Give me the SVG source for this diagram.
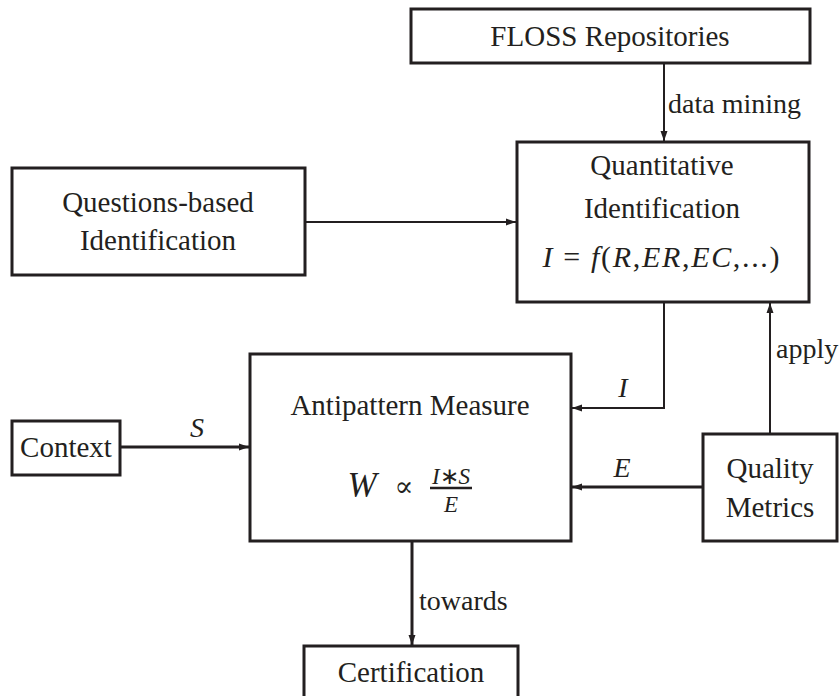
<svg xmlns="http://www.w3.org/2000/svg" width="839" height="696" viewBox="0 0 839 696">
<defs>
  <marker id="ah" markerUnits="userSpaceOnUse" markerWidth="10" markerHeight="8" refX="10" refY="4" orient="auto">
    <path d="M0,0.5 L10,4 L0,7.5 z" fill="#231f20"/>
  </marker>
</defs>
<rect width="839" height="696" fill="#ffffff"/>

<g id="connectors" fill="none" stroke="#231f20">
  <line stroke-width="2" x1="664" y1="63" x2="664" y2="141" marker-end="url(#ah)"/>
  <line stroke-width="2" x1="305" y1="222" x2="516" y2="222" marker-end="url(#ah)"/>
  <polyline stroke-width="2" points="664,302 664,408 572,408" marker-end="url(#ah)"/>
  <line stroke-width="2" x1="770" y1="434" x2="770" y2="303" marker-end="url(#ah)"/>
  <line stroke-width="3" x1="120" y1="447" x2="249" y2="447" marker-end="url(#ah)"/>
  <line stroke-width="3" x1="703" y1="487" x2="572" y2="487" marker-end="url(#ah)"/>
  <line stroke-width="3" x1="412" y1="541" x2="412" y2="645" marker-end="url(#ah)"/>
</g>
<text font-family="Liberation Serif" font-size="28" fill="#231f20" x="668" y="113">data mining</text>
<text font-family="Liberation Serif" font-size="28" font-style="italic" fill="#231f20" x="623" y="397" text-anchor="middle">I</text>
<text font-family="Liberation Serif" font-size="28" fill="#231f20" x="776" y="358">apply</text>
<text font-family="Liberation Serif" font-size="28" font-style="italic" fill="#231f20" x="197" y="437" text-anchor="middle">S</text>
<text font-family="Liberation Serif" font-size="28" font-style="italic" fill="#231f20" x="622" y="477" text-anchor="middle">E</text>
<text font-family="Liberation Serif" font-size="28" fill="#231f20" x="419" y="610">towards</text>

<g id="floss">
  <rect x="411" y="9" width="399" height="54" fill="#ffffff" stroke="#231f20" stroke-width="3"/>
  <text font-family="Liberation Serif" font-size="29" fill="#231f20" x="610" y="46" text-anchor="middle">FLOSS Repositories</text>
</g>

<g id="quantitative">
  <rect x="517" y="142" width="292" height="160" fill="#ffffff" stroke="#231f20" stroke-width="3"/>
  <text font-family="Liberation Serif" font-size="29" fill="#231f20" x="662" y="175" text-anchor="middle">Quantitative</text>
  <text font-family="Liberation Serif" font-size="29" fill="#231f20" x="662" y="218" text-anchor="middle">Identification</text>
  <text font-family="Liberation Serif" font-size="30" fill="#231f20" x="661" y="267" text-anchor="middle" textLength="237"><tspan font-style="italic">I</tspan> = <tspan font-style="italic">f</tspan>(<tspan font-style="italic">R</tspan>,<tspan font-style="italic">ER</tspan>,<tspan font-style="italic">EC</tspan>,...)</text>
</g>

<g id="questions">
  <rect x="12" y="168" width="293" height="107" fill="#ffffff" stroke="#231f20" stroke-width="3"/>
  <text font-family="Liberation Serif" font-size="29" fill="#231f20" x="158" y="212" text-anchor="middle">Questions-based</text>
  <text font-family="Liberation Serif" font-size="29" fill="#231f20" x="158" y="250" text-anchor="middle">Identification</text>
</g>

<g id="context">
  <rect x="12" y="421" width="108" height="54" fill="#ffffff" stroke="#231f20" stroke-width="3"/>
  <text font-family="Liberation Serif" font-size="29" fill="#231f20" x="66" y="457" text-anchor="middle">Context</text>
</g>

<g id="antipattern">
  <rect x="250" y="354" width="321" height="187" fill="#ffffff" stroke="#231f20" stroke-width="3"/>
  <text font-family="Liberation Serif" font-size="29" fill="#231f20" x="410" y="415" text-anchor="middle">Antipattern Measure</text>
  <text font-family="Liberation Serif" font-size="35" font-style="italic" fill="#231f20" x="362" y="497" text-anchor="middle">W</text>
  <text font-family="DejaVu Serif" font-size="28" fill="#231f20" x="404" y="496" text-anchor="middle">&#8733;</text>
  <line x1="430" y1="488" x2="472" y2="488" stroke="#231f20" stroke-width="2.5"/>
  <text font-family="Liberation Serif" font-size="23" fill="#231f20" x="451" y="484" text-anchor="middle"><tspan font-style="italic">I</tspan>&#8727;<tspan font-style="italic">S</tspan></text>
  <text font-family="Liberation Serif" font-size="23" font-style="italic" fill="#231f20" x="451" y="512" text-anchor="middle">E</text>
</g>

<g id="quality">
  <rect x="703" y="434" width="134" height="107" fill="#ffffff" stroke="#231f20" stroke-width="3"/>
  <text font-family="Liberation Serif" font-size="29" fill="#231f20" x="770" y="478" text-anchor="middle">Quality</text>
  <text font-family="Liberation Serif" font-size="29" fill="#231f20" x="770" y="517" text-anchor="middle">Metrics</text>
</g>

<g id="certification">
  <rect x="304" y="646" width="214" height="60" fill="#ffffff" stroke="#231f20" stroke-width="3"/>
  <text font-family="Liberation Serif" font-size="29" fill="#231f20" x="411" y="682" text-anchor="middle">Certification</text>
</g>
</svg>
